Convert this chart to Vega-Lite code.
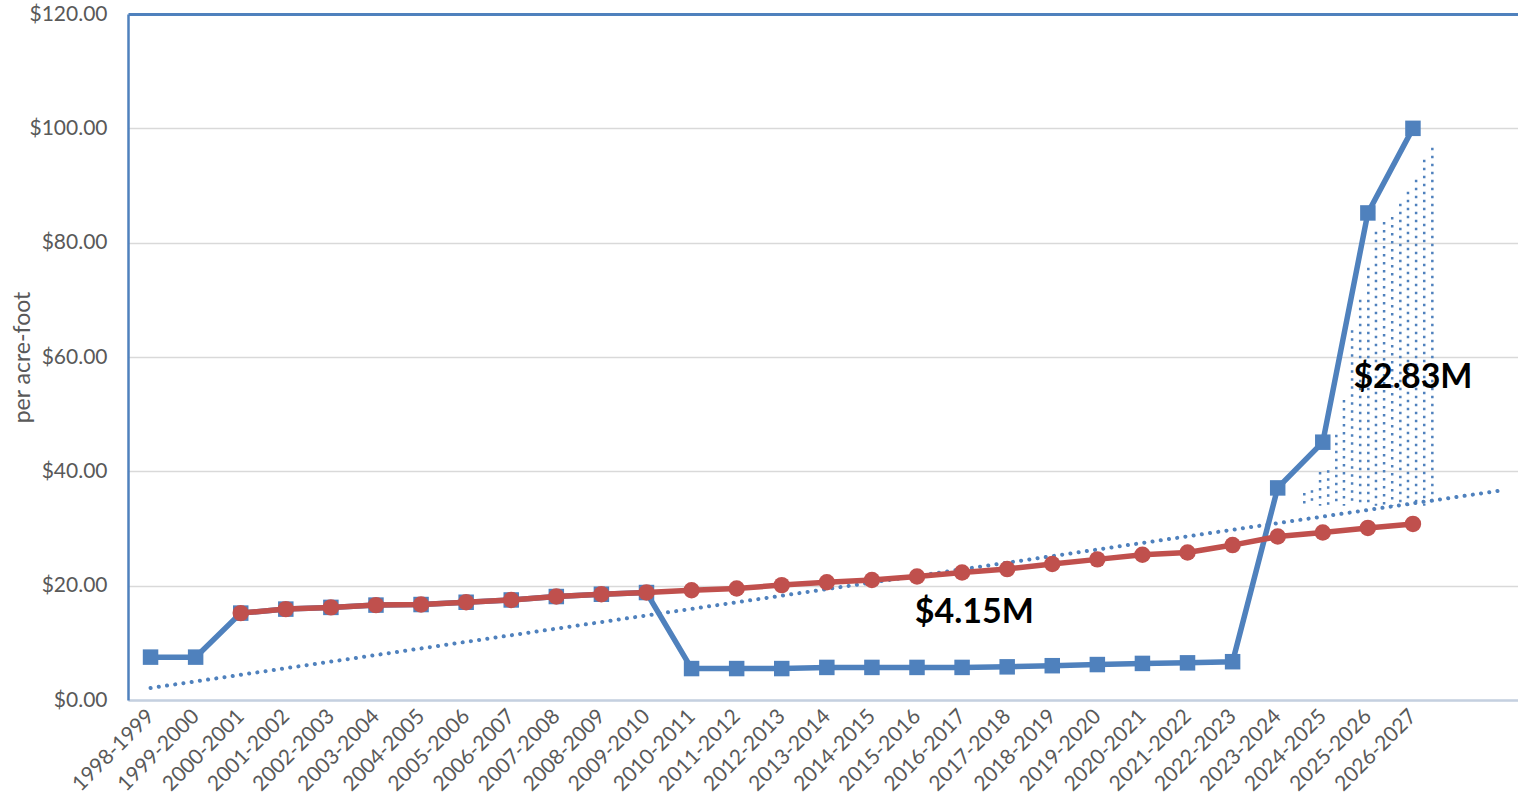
{
  "$schema": "https://vega.github.io/schema/vega-lite/v6.json",
  "autosize": {"type": "none"},
  "padding": {"left": 128, "top": 14, "right": 0, "bottom": 108},
  "width": 1390,
  "height": 686,
  "background": "white",
  "config": {
    "font": "Lato",
    "view": {"stroke": null}
  },
  "datasets": {
    "rates": [
      {"idx": 0, "period": "1998-1999", "rate": 7.5, "adjusted": null},
      {"idx": 1, "period": "1999-2000", "rate": 7.5, "adjusted": null},
      {"idx": 2, "period": "2000-2001", "rate": 15.2, "adjusted": 15.2},
      {"idx": 3, "period": "2001-2002", "rate": 15.9, "adjusted": 15.9},
      {"idx": 4, "period": "2002-2003", "rate": 16.2, "adjusted": 16.2},
      {"idx": 5, "period": "2003-2004", "rate": 16.6, "adjusted": 16.6},
      {"idx": 6, "period": "2004-2005", "rate": 16.7, "adjusted": 16.7},
      {"idx": 7, "period": "2005-2006", "rate": 17.1, "adjusted": 17.1},
      {"idx": 8, "period": "2006-2007", "rate": 17.5, "adjusted": 17.5},
      {"idx": 9, "period": "2007-2008", "rate": 18.1, "adjusted": 18.1},
      {"idx": 10, "period": "2008-2009", "rate": 18.5, "adjusted": 18.5},
      {"idx": 11, "period": "2009-2010", "rate": 18.8, "adjusted": 18.8},
      {"idx": 12, "period": "2010-2011", "rate": 5.5, "adjusted": 19.2},
      {"idx": 13, "period": "2011-2012", "rate": 5.5, "adjusted": 19.5},
      {"idx": 14, "period": "2012-2013", "rate": 5.5, "adjusted": 20.1},
      {"idx": 15, "period": "2013-2014", "rate": 5.7, "adjusted": 20.6},
      {"idx": 16, "period": "2014-2015", "rate": 5.7, "adjusted": 21.0},
      {"idx": 17, "period": "2015-2016", "rate": 5.7, "adjusted": 21.6},
      {"idx": 18, "period": "2016-2017", "rate": 5.7, "adjusted": 22.3},
      {"idx": 19, "period": "2017-2018", "rate": 5.8, "adjusted": 22.9},
      {"idx": 20, "period": "2018-2019", "rate": 6.0, "adjusted": 23.8},
      {"idx": 21, "period": "2019-2020", "rate": 6.2, "adjusted": 24.6},
      {"idx": 22, "period": "2020-2021", "rate": 6.4, "adjusted": 25.4},
      {"idx": 23, "period": "2021-2022", "rate": 6.5, "adjusted": 25.8},
      {"idx": 24, "period": "2022-2023", "rate": 6.7, "adjusted": 27.1},
      {"idx": 25, "period": "2023-2024", "rate": 37.1, "adjusted": 28.6},
      {"idx": 26, "period": "2024-2025", "rate": 45.1, "adjusted": 29.3},
      {"idx": 27, "period": "2025-2026", "rate": 85.2, "adjusted": 30.1},
      {"idx": 28, "period": "2026-2027", "rate": 100.0, "adjusted": 30.8}
    ],
    "trend": [
      {"idx": 0, "value": 2.1},
      {"idx": 30, "value": 36.7}
    ],
    "shade": [
      {"idx": 25.59, "top": 36.2, "bottom": 34.0},
      {"idx": 25.76, "top": 36.7, "bottom": 34.0},
      {"idx": 25.94, "top": 39.9, "bottom": 34.0},
      {"idx": 26.12, "top": 40.2, "bottom": 34.0},
      {"idx": 26.30, "top": 46.4, "bottom": 34.0},
      {"idx": 26.47, "top": 52.5, "bottom": 34.0},
      {"idx": 26.65, "top": 64.7, "bottom": 34.0},
      {"idx": 26.83, "top": 70.0, "bottom": 34.0},
      {"idx": 27.01, "top": 75.6, "bottom": 34.0},
      {"idx": 27.18, "top": 81.9, "bottom": 34.0},
      {"idx": 27.36, "top": 83.6, "bottom": 34.0},
      {"idx": 27.54, "top": 84.5, "bottom": 34.0},
      {"idx": 27.72, "top": 86.8, "bottom": 34.0},
      {"idx": 27.89, "top": 88.9, "bottom": 34.0},
      {"idx": 28.07, "top": 91.0, "bottom": 34.0},
      {"idx": 28.25, "top": 94.5, "bottom": 34.0},
      {"idx": 28.43, "top": 96.6, "bottom": 34.0}
    ],
    "notes": [
      {"idx": 18.27, "value": 15.2, "label": "$4.15M"},
      {"idx": 28.0, "value": 56.3, "label": "$2.83M"}
    ]
  },
  "layer": [
    {
      "data": {"name": "shade"},
      "mark": {"type": "rule", "color": "#4f81bd", "strokeWidth": 2.5, "strokeDash": [2.5, 5.5]},
      "encoding": {
        "x": {
          "field": "idx", "type": "quantitative",
          "scale": {"domain": [-0.5, 30.33], "nice": false, "zero": false},
          "axis": {
            "values": [0,1,2,3,4,5,6,7,8,9,10,11,12,13,14,15,16,17,18,19,20,21,22,23,24,25,26,27,28],
            "labelExpr": "['1998-1999','1999-2000','2000-2001','2001-2002','2002-2003','2003-2004','2004-2005','2005-2006','2006-2007','2007-2008','2008-2009','2009-2010','2010-2011','2011-2012','2012-2013','2013-2014','2014-2015','2015-2016','2016-2017','2017-2018','2018-2019','2019-2020','2020-2021','2021-2022','2022-2023','2023-2024','2024-2025','2025-2026','2026-2027'][datum.value]",
            "title": null,
            "grid": false,
            "ticks": false,
            "labelAngle": -45,
            "labelAlign": "right",
            "labelBaseline": "middle",
            "labelPadding": 13,
            "labelFontSize": 21,
            "labelColor": "#595959",
            "labelOverlap": false,
            "labelFlush": false,
            "domainColor": "#c5d0e0",
            "domainWidth": 2.5
          }
        },
        "y": {
          "field": "top", "type": "quantitative",
          "scale": {"domain": [0, 120], "nice": false},
          "axis": {
            "values": [0, 20, 40, 60, 80, 100, 120],
            "format": "$.2f",
            "title": "per acre-foot",
            "titleFontSize": 23,
            "titleFontWeight": "normal",
            "titleColor": "#595959",
            "titleX": -106,
            "titleY": 343,
            "titleAngle": -90,
            "titleAlign": "center",
            "titleBaseline": "middle",
            "labelFontSize": 21,
            "labelColor": "#595959",
            "labelPadding": 21,
            "ticks": false,
            "domainColor": "#4f81bd",
            "domainWidth": 2.5,
            "gridColor": {"condition": {"test": "datum.value === 120", "value": "#4f81bd"}, "value": "#d9d9d9"},
            "gridWidth": {"condition": {"test": "datum.value === 120", "value": 3}, "value": 1.5}
          }
        },
        "y2": {"field": "bottom"}
      }
    },
    {
      "data": {"name": "trend"},
      "mark": {"type": "line", "color": "#4f81bd", "strokeWidth": 4, "strokeDash": [0.1, 8.2], "strokeCap": "round"},
      "encoding": {
        "x": {"field": "idx", "type": "quantitative"},
        "y": {"field": "value", "type": "quantitative"}
      }
    },
    {
      "data": {"name": "rates"},
      "mark": {"type": "line", "color": "#4f81bd", "strokeWidth": 5.5, "point": {"shape": "square", "size": 240, "color": "#4f81bd", "filled": true, "opacity": 1}},
      "encoding": {
        "x": {"field": "idx", "type": "quantitative"},
        "y": {"field": "rate", "type": "quantitative"}
      }
    },
    {
      "data": {"name": "rates"},
      "mark": {"type": "line", "color": "#c0504d", "strokeWidth": 5.5, "point": {"shape": "circle", "size": 270, "color": "#c0504d", "filled": true, "opacity": 1}},
      "encoding": {
        "x": {"field": "idx", "type": "quantitative"},
        "y": {"field": "adjusted", "type": "quantitative"}
      }
    },
    {
      "data": {"name": "notes"},
      "mark": {"type": "text", "fontSize": 34, "fontWeight": "bold", "color": "#000000", "align": "center", "baseline": "middle"},
      "encoding": {
        "x": {"field": "idx", "type": "quantitative"},
        "y": {"field": "value", "type": "quantitative"},
        "text": {"field": "label"}
      }
    }
  ]
}
